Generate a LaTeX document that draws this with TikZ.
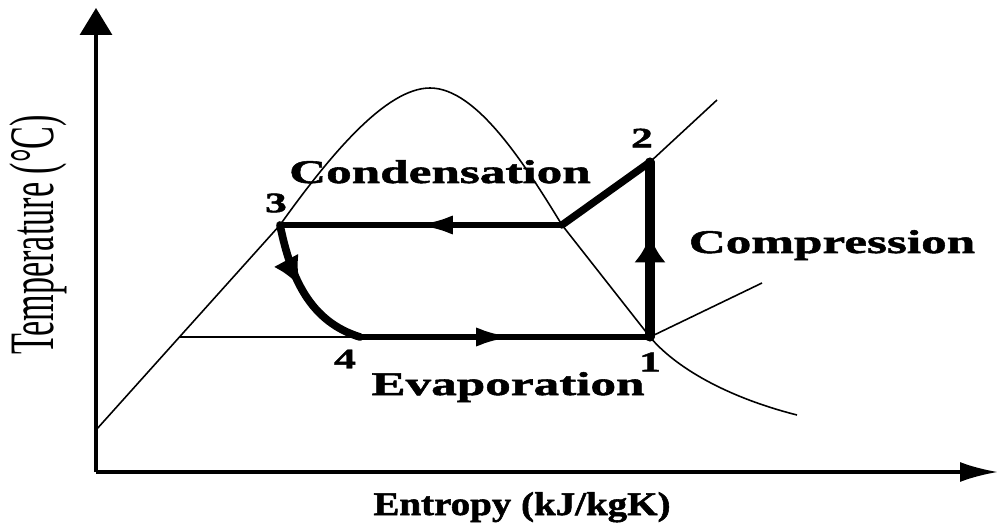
\documentclass[tikz,border=0pt]{standalone}
\usepackage{fontspec}
\usetikzlibrary{arrows.meta, decorations.markings}
\newfontfamily\labelfont[FakeStretch=1.55, BoldFeatures={FakeBold=1.6}]{Liberation Serif}
\newfontfamily\xlabelfont[FakeStretch=1.18, BoldFeatures={FakeBold=1.6}]{Liberation Serif}
\newfontfamily\axisfont[FakeStretch=0.54]{Liberation Serif}
\tikzset{
	thinline/.style = {line width = 0.9pt},
	axisline/.style = {line width = 1.8pt},
	cycleline/.style = {line width = 3.6pt, line cap = round},
	vcycleline/.style = {line width = 5.2pt, line cap = round},
	lbl/.style = {font = \labelfont\bfseries\fontsize{18.8pt}{22pt}\selectfont, anchor = base, inner sep = 0pt},
	num/.style = {font = \labelfont\bfseries\fontsize{16pt}{19pt}\selectfont, inner sep = 0pt},
	harrow/.style = {postaction = {decorate}, decoration = {markings,
		mark = at position #1 with {\arrow{Latex[length = 7.5mm, width = 3.8mm]}}}},
	varrow/.style = {postaction = {decorate}, decoration = {markings,
		mark = at position #1 with {\arrow{Latex[length = 5.4mm, width = 6.4mm]}}}},
	carrow/.style = {postaction = {decorate}, decoration = {markings,
		mark = at position #1 with {\arrow{Latex[length = 6mm, width = 5.6mm]}}}}
}
\begin{document}
\begin{tikzpicture}
	\useasboundingbox (-1.92, -1.06) rectangle (18.08, 9.44);

	% axes:
	\coordinate (o) at (0, 0);
	\coordinate (ytip) at (0, 9.28);
	\coordinate (xtip) at (18.04, 0);
	\draw[axisline, -{Triangle[length = 5.4mm, width = 6.4mm]}] (o) -- (ytip);
	\draw[axisline, -{Latex[length = 7.6mm, width = 4mm]}] (o) -- (xtip);
	\node[lbl, font = \xlabelfont\bfseries\fontsize{18.8pt}{22pt}\selectfont] (xlabel) at (8.52, -0.86) {Entropy (kJ/kgK)};
	\node[rotate = 90, font = \axisfont\fontsize{36pt}{40pt}\selectfont] (ylabel) at (-1.16, 4.74) {Temperature (°C)};

	% cycle points:
	\coordinate (p1) at (11.08, 2.70);
	\coordinate (p2) at (11.08, 6.20);
	\coordinate (p3) at (3.68, 4.94);
	\coordinate (p4) at (5.28, 2.70);
	\coordinate (vap) at (9.32, 4.94);
	\coordinate (liq) at (0, 0.84);
	\coordinate (top) at (6.68, 7.68);
	\coordinate (low) at (1.67, 2.70);

	% saturation dome and lines:
	\draw[thinline] (liq) -- (p3) .. controls (4.68, 6.34) and (5.8, 7.68) .. (top)
		.. controls (7.6, 7.68) and (8.55, 6.2) .. (vap) -- (p1)
		.. controls (11.58, 2.1) and (12.6, 1.5) .. (14.02, 1.14);
	\draw[thinline] (p1) -- (13.32, 3.78);
	\draw[thinline] (p2) -- (12.42, 7.44);
	\draw[thinline] (low) -- (p4);

	% refrigeration cycle:
	\draw[cycleline, harrow = 0.53] (p4) -- (p1);
	\draw[vcycleline, varrow = 0.58] (p1) -- (p2);
	\draw[cycleline, line width = 4.2pt] (p2) -- (vap);
	\draw[cycleline, harrow = 0.52] (vap) -- (p3);
	\draw[cycleline, line width = 4.4pt, carrow = 0.45] (p3) .. controls (3.9, 3.85) and (4.3, 3.0) .. (p4);

	% labels:
	\node[num] (n1) at (11.08, 2.20) {1};
	\node[num] (n2) at (10.92, 6.68) {2};
	\node[num] (n3) at (3.60, 5.38) {3};
	\node[num] (n4) at (4.98, 2.26) {4};
	\node[lbl] (cond) at (6.88, 5.78) {Condensation};
	\node[lbl] (comp) at (14.72, 4.38) {Compression};
	\node[lbl] (evap) at (8.24, 1.54) {Evaporation};
\end{tikzpicture}
\end{document}
